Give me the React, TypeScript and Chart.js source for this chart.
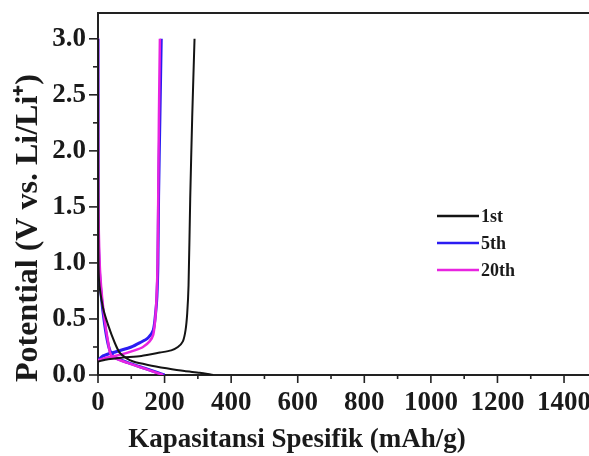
import React, { useEffect, useRef } from "react";
import { Chart, registerables } from "chart.js";

Chart.register(...registerables);

// ---- data (capacity mAh/g, potential V) ----
const firstDischargeCap = [0, 1, 3, 15, 30, 50, 65, 85, 106, 150, 206, 260, 306, 346];
const firstDischargeV = [3.0, 1.2, 0.85, 0.6, 0.45, 0.29, 0.2, 0.15, 0.12, 0.09, 0.06, 0.035, 0.02, 0.0];
const firstChargeCap = [0, 30, 75, 130, 186, 220, 240, 255, 263, 268, 272, 277, 283, 290];
const firstChargeV = [0.12, 0.14, 0.155, 0.17, 0.2, 0.22, 0.25, 0.3, 0.4, 0.55, 0.8, 1.57, 2.3, 3.0];

const fifthDischargeCap = [0, 0, 3, 10, 20, 30, 40, 55, 90, 140, 180, 200];
const fifthDischargeV = [3.0, 1.5, 1.0, 0.7, 0.45, 0.28, 0.19, 0.15, 0.11, 0.06, 0.02, 0.0];
const fifthChargeCap = [0, 15, 56, 100, 127, 150, 166, 173, 177, 180, 182, 186, 190];
const fifthChargeV = [0.13, 0.17, 0.21, 0.25, 0.29, 0.33, 0.4, 0.55, 0.7, 1.0, 1.6, 2.3, 3.0];

const twentiethDischargeCap = [0, 1, 5, 12, 22, 30, 36, 45, 87, 147, 196];
const twentiethDischargeV = [3.0, 1.6, 1.0, 0.7, 0.45, 0.3, 0.2, 0.16, 0.11, 0.05, 0.0];
const twentiethChargeCap = [0, 20, 66, 110, 135, 155, 166, 172, 176, 179, 181, 183, 186];
const twentiethChargeV = [0.13, 0.15, 0.18, 0.22, 0.25, 0.3, 0.36, 0.5, 0.7, 1.0, 1.6, 2.3, 3.0];

const legendLabels = ["1st", "5th", "20th"];
const seriesColors = ["#141414", "#2b1cf2", "#e824e0"];
const xTitle = "Kapasitansi Spesifik (mAh/g)";
const yTitle = "Potential (V vs. Li/Li\u207A)";

const X_MIN = 0, X_MAX = 1475, X_STEP = 100, X_LABEL_STEP = 200;
const Y_MIN = 0, Y_MAX = 3.23, Y_STEP = 0.25, Y_LABEL_STEP = 0.5;

const pts = (xs: number[], ys: number[]) => xs.map((x, i) => ({ x, y: ys[i] }));

const isMultiple = (v: number, step: number) => Math.abs(v / step - Math.round(v / step)) < 1e-6;

const FONT = "'Liberation Serif', 'Times New Roman', serif";

const decorPlugin = {
  id: "decor",
  afterDraw(chart: any) {
    const { ctx, chartArea, scales } = chart;
    const xs = scales.x, ys = scales.y;
    ctx.save();
    // top border
    ctx.strokeStyle = "#222";
    ctx.lineWidth = 2;
    ctx.beginPath();
    ctx.moveTo(chartArea.left - 1, chartArea.top);
    ctx.lineTo(chart.width, chartArea.top);
    ctx.stroke();
    // tick marks
    ctx.lineWidth = 1.6;
    xs.ticks.forEach((t: any) => {
      const px = xs.getPixelForValue(t.value);
      const major = isMultiple(t.value, X_LABEL_STEP);
      ctx.beginPath();
      ctx.moveTo(px, chartArea.bottom);
      ctx.lineTo(px, chartArea.bottom + (major ? 8 : 4));
      ctx.stroke();
    });
    ys.ticks.forEach((t: any) => {
      const py = ys.getPixelForValue(t.value);
      const major = isMultiple(t.value, Y_LABEL_STEP);
      ctx.beginPath();
      ctx.moveTo(chartArea.left, py);
      ctx.lineTo(chartArea.left - (major ? 9 : 5), py);
      ctx.stroke();
    });
    // x title
    ctx.fillStyle = "#1a1a1a";
    ctx.font = `bold 27px ${FONT}`;
    ctx.textAlign = "center";
    ctx.textBaseline = "alphabetic";
    ctx.fillText(xTitle, 297, 447);
    // y title
    ctx.save();
    ctx.translate(37, 228);
    ctx.rotate(-Math.PI / 2);
    ctx.font = `bold 32px ${FONT}`;
    ctx.textAlign = "center";
    ctx.fillText(yTitle, 0, 0);
    ctx.restore();
    // legend
    const rows = [216, 243, 270];
    ctx.font = `bold 18px ${FONT}`;
    ctx.textAlign = "left";
    ctx.textBaseline = "middle";
    legendLabels.forEach((lab, i) => {
      ctx.strokeStyle = seriesColors[i];
      ctx.lineWidth = 2.5;
      ctx.beginPath();
      ctx.moveTo(437, rows[i]);
      ctx.lineTo(479, rows[i]);
      ctx.stroke();
      ctx.fillStyle = "#1a1a1a";
      ctx.fillText(lab, 481, rows[i] + 1);
    });
    ctx.restore();
  },
};

export default function App() {
  const ref = useRef<HTMLCanvasElement | null>(null);

  useEffect(() => {
    if (!ref.current) return;
    const mk = (label: string, data: any[], color: string, width: number, order: number) => ({
      label,
      data,
      borderColor: color,
      backgroundColor: color,
      borderWidth: width,
      pointRadius: 0,
      tension: 0.25,
      fill: false,
      order,
    });
    const chart = new Chart(ref.current, {
      type: "line",
      data: {
        datasets: [
          mk("1st", pts(firstDischargeCap, firstDischargeV), seriesColors[0], 2, 1),
          mk("1st", pts(firstChargeCap, firstChargeV), seriesColors[0], 2, 1),
          mk("5th", pts(fifthDischargeCap, fifthDischargeV), seriesColors[1], 3, 3),
          mk("5th", pts(fifthChargeCap, fifthChargeV), seriesColors[1], 3, 3),
          mk("20th", pts(twentiethDischargeCap, twentiethDischargeV), seriesColors[2], 2.5, 2),
          mk("20th", pts(twentiethChargeCap, twentiethChargeV), seriesColors[2], 2.5, 2),
        ],
      },
      options: {
        responsive: false,
        animation: false,
        layout: { padding: { top: 13, right: 0, left: 0, bottom: 0 } },
        plugins: { legend: { display: false }, tooltip: { enabled: false }, title: { display: false } },
        scales: {
          x: {
            type: "linear",
            min: X_MIN,
            max: X_MAX,
            grid: { display: false, drawTicks: false },
            border: { display: true, width: 2, color: "#222" },
            ticks: {
              stepSize: X_STEP,
              autoSkip: false,
              includeBounds: false,
              maxRotation: 0,
              padding: 12,
              color: "#1a1a1a",
              font: { family: FONT, size: 27, weight: "bold" },
              callback: (v: any) => (isMultiple(Number(v), X_LABEL_STEP) ? String(v) : ""),
            },
            afterFit: (s: any) => {
              s.height = 81;
              s.paddingLeft = 0;
              s.paddingRight = 0;
            },
          },
          y: {
            type: "linear",
            min: Y_MIN,
            max: Y_MAX,
            grid: { display: false, drawTicks: false },
            border: { display: true, width: 2, color: "#222" },
            ticks: {
              stepSize: Y_STEP,
              autoSkip: false,
              includeBounds: false,
              padding: 12,
              color: "#1a1a1a",
              font: { family: FONT, size: 27, weight: "bold" },
              callback: (v: any) => (isMultiple(Number(v), Y_LABEL_STEP) ? Number(v).toFixed(1) : ""),
            },
            afterFit: (s: any) => {
              s.width = 98;
              s.paddingTop = 0;
              s.paddingBottom = 0;
            },
          },
        },
      },
      plugins: [decorPlugin],
    });
    return () => chart.destroy();
  }, []);

  return (
    <div style={{ position: "fixed", left: 0, top: 0, width: 589, height: 456, background: "#fff" }}>
      <canvas ref={ref} width={589} height={456} style={{ display: "block" }} />
    </div>
  );
}
